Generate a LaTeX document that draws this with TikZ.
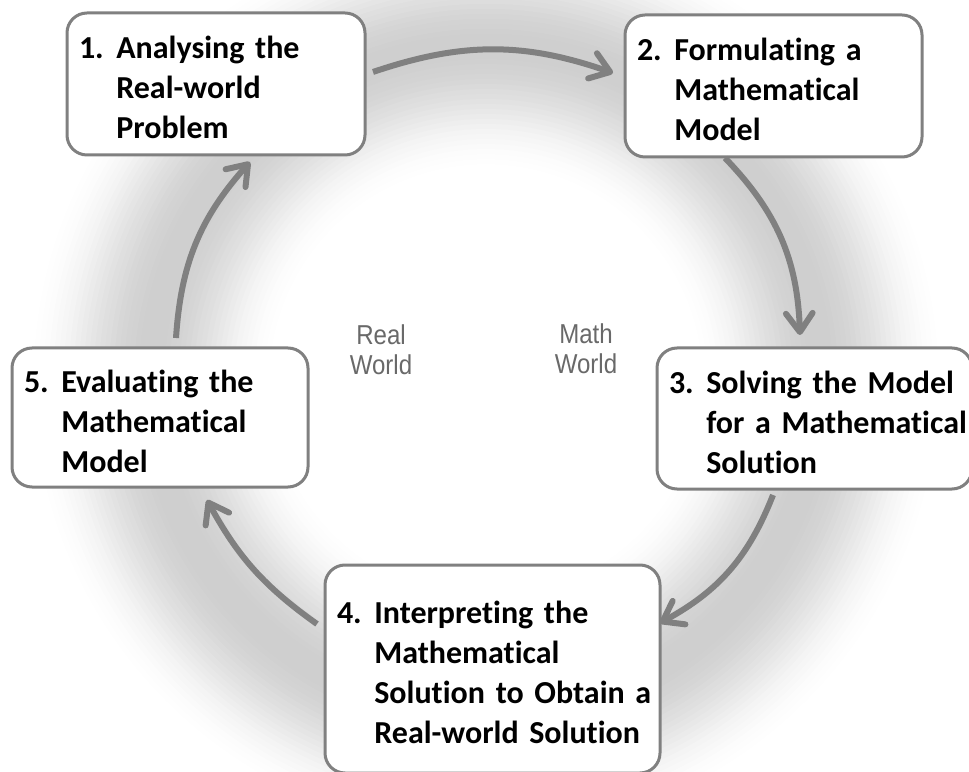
\documentclass[tikz,border=0pt]{standalone}
\usepackage{fontspec}
\setmainfont{Carlito}[Ligatures=NoCommon, WordSpace=0.85]
\newfontfamily\worldfont{Liberation Sans}[FakeStretch=0.88]
\usetikzlibrary{arrows.meta}
\definecolor{linegray}{RGB}{128,128,128}
\definecolor{labelgray}{RGB}{105,105,105}
\newcommand{\nbr}[1]{\makebox[28pt][l]{#1}}
\newcommand{\steplines}[1]{\raisebox{-5pt}[\height][\depth]{\begin{tabular}{@{}l@{}l@{}}#1\end{tabular}}}
\begin{document}
\begin{tikzpicture}[x=0.75pt,y=0.75pt,
  stepbox/.style={draw=linegray, line width=2.25pt, rounded corners=15pt, fill=white,
    inner xsep=9pt, inner ysep=0pt, align=left, text=black,
    font=\bfseries\fontsize{24pt}{30pt}\selectfont},
  flow/.style={draw=linegray, line width=4.5pt,
    -{Straight Barb[length=14pt,width=20pt,round]}},
  worldlabel/.style={font=\worldfont\fontsize{20.5pt}{22.5pt}\selectfont,
    text=labelgray, align=center}]
\useasboundingbox (0,0) rectangle (969,771);
\clip (0,0) rectangle (969,771);
\fill[white] (0,0) rectangle (969,771);
% soft glow ring behind the cycle
\foreach \r in {215,220,...,460}{
  \pgfmathsetmacro\glow{max(0,19*(0.5+0.5*cos(180*min(1,abs(\r-335)/125))))}
  \draw[black!\glow, line width=4.2pt] (486,390) circle[radius=\r*0.75pt];
}

\node[stepbox, minimum width=223.5pt, minimum height=106.5pt, text width=205.5pt] (b1) at (216,687)
  {\steplines{\nbr{1.}&Analysing the\\ &Real-world\\ &Problem}};
\node[stepbox, minimum width=222.75pt, minimum height=106.5pt, text width=204.75pt] (b2) at (773.5,685)
  {\steplines{\nbr{2.}&Formulating a\\ &Mathematical\\ &Model}};
\node[stepbox, minimum width=236.25pt, minimum height=105.75pt, text width=218.25pt] (b3) at (814.5,352.5)
  {\steplines{\nbr{3.}&Solving the Model\\ &for a Mathematical\\ &Solution}};
\node[stepbox, minimum width=251.25pt, minimum height=156pt, text width=233.25pt] (b4) at (492.5,102)
  {\steplines{\nbr{4.}&Interpreting the\\ &Mathematical\\ &Solution to Obtain a\\ &Real-world Solution}};
\node[stepbox, minimum width=222pt, minimum height=104.25pt, text width=204pt] (b5) at (160,353.5)
  {\steplines{\nbr{5.}&Evaluating the\\ &Mathematical\\ &Model}};

\node[worldlabel] (rw) at (381,421) {Real\\World};
\node[worldlabel] (mw) at (586,422) {Math\\World};

\coordinate (a12s) at (373,699); \coordinate (a12e) at (613,698);
\coordinate (a23s) at (725,613); \coordinate (a23e) at (800,436);
\coordinate (a34s) at (773,276); \coordinate (a34e) at (660,148);
\coordinate (a45s) at (317,147); \coordinate (a45e) at (207,271);
\coordinate (a51s) at (176,433); \coordinate (a51e) at (250,609);

\draw[flow] (a12s) to[bend left=19] (a12e);
\draw[flow] (a23s) to[bend left=21] (a23e);
\draw[flow] (a34s) to[bend left=20] (a34e);
\draw[flow] (a45s) to[bend left=13] (a45e);
\draw[flow] (a51s) to[bend left=19] (a51e);
\end{tikzpicture}
\end{document}
